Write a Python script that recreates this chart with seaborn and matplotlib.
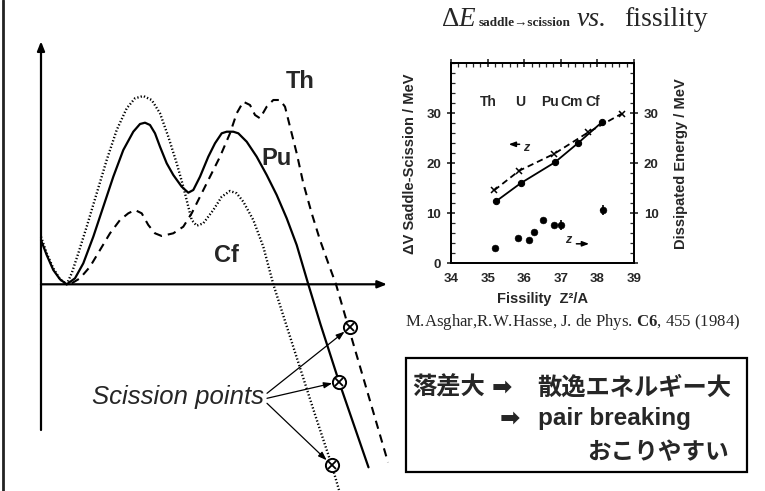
import numpy as np
import pandas as pd
import matplotlib
matplotlib.use("Agg")
import matplotlib.pyplot as plt
from matplotlib.patches import Rectangle
from matplotlib.ticker import MultipleLocator
import seaborn as sns

# ---------------------------------------------------------------
# Schematic fission barriers: deformation vs. potential energy
# (arbitrary units, origin at the ground-state minimum axis)
# ---------------------------------------------------------------
pu_def = [0.0, 0.57, 1.23, 1.9, 2.57, 3.4, 4.23, 5.23, 6.23, 7.23, 8.23, 9.23, 9.9,
          10.4, 10.9, 11.4, 11.9, 12.57, 13.23, 14.07, 14.73, 15.23, 15.9, 16.73,
          17.4, 18.07, 18.57, 19.23, 19.73, 20.57, 21.57, 22.57, 23.57, 24.57,
          25.57, 26.73, 27.95, 29.8, 32.75]
pu_e = [4.43, 2.93, 1.43, 0.5, 0.0, 0.6, 2.1, 4.76, 7.76, 10.76, 13.43, 15.26, 16.03,
        16.16, 15.93, 15.1, 13.76, 12.1, 10.93, 9.76, 9.16, 9.43, 10.76, 12.76,
        14.1, 15.1, 15.26, 15.26, 15.1, 14.26, 12.76, 10.93, 8.93, 6.6,
        3.93, 0.0, -4.0, -9.74, -18.3]

th_def = [3.07, 3.9, 4.9, 5.9, 6.9, 7.9, 8.73, 9.4, 10.07, 10.73, 11.4, 12.07,
          13.23, 14.23, 15.07, 15.9, 16.9, 17.9, 18.9, 19.57, 20.23, 20.9, 21.4,
          21.9, 22.57, 23.23, 23.9, 24.4, 24.9, 25.57, 26.23, 27.07, 27.9, 28.73,
          29.5, 30.75, 34.7]
th_e = [0.1, 0.6, 1.76, 3.43, 5.1, 6.43, 7.1, 7.43, 7.1, 5.93, 5.1, 4.83,
        5.1, 5.76, 7.1, 8.76, 10.76, 12.76, 15.1, 17.1, 18.26, 17.93, 16.93,
        16.6, 17.76, 18.43, 18.43, 17.76, 15.76, 13.1, 10.1, 7.1, 4.43, 2.1,
        0.0, -4.3, -17.8]

cf_def = [0.0, 0.57, 1.23, 1.9, 2.57, 3.07, 3.73, 4.57, 5.57, 6.57, 7.57, 8.57,
          9.4, 10.23, 11.07, 11.9, 12.73, 13.57, 14.23, 14.73, 15.07, 15.57,
          16.23, 17.23, 18.07, 18.9, 19.57, 20.23, 21.23, 22.23, 23.23, 25.33,
          27.47, 29.07, 29.8]
cf_e = [4.76, 3.1, 1.6, 0.5, 0.0, 1.1, 3.1, 5.76, 9.1, 12.43, 15.43, 17.6,
        18.6, 18.83, 18.43, 17.1, 14.76, 12.1, 9.76, 7.76, 6.43, 5.86,
        6.1, 7.43, 8.76, 9.33, 9.1, 8.26, 6.43, 3.76, 0.0, -6.57,
        -13.24, -18.07, -20.57]

# scission points (Th, Pu, Cf)
scission_def = [30.9, 29.8, 29.07]
scission_e = [-4.3, -9.74, -18.07]

nuclei_labels = ["Th", "Pu", "Cf"]
nuclei_label_def = [25.9, 23.57, 18.57]
nuclei_label_e = [20.26, 12.6, 2.83]

# ---------------------------------------------------------------
# Saddle-to-scission energy vs. fissility (Asghar & Hasse 1984)
# ---------------------------------------------------------------
fissility_ticks = [34, 35, 36, 37, 38, 39]
energy_ticks = [0, 10, 20, 30]
dv_fiss = [35.23, 35.9, 36.84, 37.48, 38.12]
dv_mev = [12.4, 16.0, 20.2, 24.1, 28.2]
dv_lin_fiss = [35.18, 35.86, 36.82, 37.75, 38.66]
dv_lin_mev = [14.6, 18.5, 21.9, 26.2, 29.9]
diss_fiss = [35.2, 35.82, 36.14, 36.27, 36.52, 36.81, 37.0, 38.16]
diss_mev = [3.0, 5.0, 4.6, 6.3, 8.7, 7.6, 7.6, 10.6]
diss_err = [0.0, 0.0, 0.0, 0.0, 0.0, 0.0, 1.0, 1.0]
elements = ["Th", "U", "Pu", "Cm", "Cf"]
element_fiss = [35.02, 35.89, 36.7, 37.3, 37.87]

sns.set_style("white")
plt.rcParams["font.family"] = ["Liberation Sans", "DejaVu Sans"]
plt.rcParams["mathtext.fontset"] = "custom"
plt.rcParams["mathtext.rm"] = "Liberation Serif"
plt.rcParams["mathtext.it"] = "Liberation Serif:italic"
plt.rcParams["mathtext.bf"] = "Liberation Serif:bold"

W, H = 765, 491
fig = plt.figure(figsize=(W / 100, H / 100), dpi=100)
fig.patch.set_facecolor("white")


def px_rect(x0, y0, x1, y1):
    return [x0 / W, 1 - y1 / H, (x1 - x0) / W, (y1 - y0) / H]


# page layer in pixel units
bg = fig.add_axes([0, 0, 1, 1])
bg.set_xlim(0, W)
bg.set_ylim(H, 0)
bg.axis("off")
bg.axvline(2.7, color="#222222", lw=2.0)

# ---------------- schematic barrier panel ----------------
sk = fig.add_axes(px_rect(0, 0, 400, 491))
sk.set_xlim(-4.1, 35.9)
sk.set_ylim(-20.67, 28.43)
sk.axis("off")

arrow_kw = dict(arrowstyle="-|>,head_length=0.55,head_width=0.22", color="black",
                lw=1.6, shrinkA=0, shrinkB=0)
sk.annotate("", xy=(0, 24.3), xytext=(0, -14.57), arrowprops=arrow_kw)
sk.annotate("", xy=(34.6, 0), xytext=(0, 0), arrowprops=arrow_kw)

sns.lineplot(x=pu_def, y=pu_e, ax=sk, sort=False, estimator=None,
             color="black", lw=1.6)
sns.lineplot(x=th_def, y=th_e, ax=sk, sort=False, estimator=None,
             color="black", lw=1.5, linestyle=(0, (4.0, 2.9)))
sns.lineplot(x=cf_def, y=cf_e, ax=sk, sort=False, estimator=None,
             color="black", lw=1.7, linestyle=(0, (0.55, 0.9)))

sns.lineplot(x=scission_def, y=scission_e, ax=sk, sort=False, estimator=None,
             linestyle="none", marker="o", markersize=9.5,
             markerfacecolor="white", markeredgecolor="black",
             markeredgewidth=1.4, zorder=5)
sns.lineplot(x=scission_def, y=scission_e, ax=sk, sort=False, estimator=None,
             linestyle="none", marker="x", markersize=5.5,
             markeredgecolor="black", markeredgewidth=1.3, zorder=6)

for lab, xd, yd in zip(nuclei_labels, nuclei_label_def, nuclei_label_e):
    sk.text(xd, yd, lab, fontsize=17, fontweight="bold", ha="center", va="center")

sk.text(22.25, -11.3, "Scission points", fontsize=18.5, fontstyle="italic",
        ha="right", va="center")
for xd, yd, y0 in zip(scission_def, scission_e, [-10.9, -11.4, -11.9]):
    sk.annotate("", xy=(xd, yd), xytext=(22.6, y0),
                arrowprops=dict(arrowstyle="-|>,head_length=0.5,head_width=0.18",
                                color="black", lw=0.9, shrinkA=0, shrinkB=5))

# ---------------- data inset ----------------
ins = fig.add_axes(px_rect(451, 63.3, 634, 263.3))
ins.set_facecolor("none")
ins2 = ins.twinx()

sns.lineplot(x=dv_fiss, y=dv_mev, ax=ins, sort=False, estimator=None,
             color="black", lw=1.3, marker="o", markersize=4.5,
             markerfacecolor="black", markeredgecolor="black")
sns.lineplot(x=dv_lin_fiss, y=dv_lin_mev, ax=ins, sort=False, estimator=None,
             color="black", lw=1.3, linestyle=(0, (3.5, 2.2)), marker="x",
             markersize=5, markeredgecolor="black", markeredgewidth=1.1)
sns.scatterplot(x=diss_fiss, y=diss_mev, ax=ins2, s=24)
ins2.collections[-1].set_facecolor("black")
ins2.collections[-1].set_edgecolor("black")
ins2.errorbar(diss_fiss, diss_mev, yerr=diss_err,
              xerr=[0.08 if e > 0 else 0 for e in diss_err],
              fmt="none", ecolor="black", elinewidth=1.2, capsize=0)

for a in (ins, ins2):
    a.set_xlim(34, 39)
    a.set_ylim(0, 40)
ins.set_xticks(fissility_ticks)
ins.set_yticks(energy_ticks)
ins2.set_yticks(energy_ticks)
ins2.set_yticklabels([""] + [str(v) for v in energy_ticks[1:]])
ins.xaxis.set_minor_locator(MultipleLocator(0.2))
ins.yaxis.set_minor_locator(MultipleLocator(2))
ins2.yaxis.set_minor_locator(MultipleLocator(2))
ins.tick_params(which="major", direction="inout", length=6, width=1.2, top=True,
                labelsize=9.5, pad=4)
ins.tick_params(which="minor", direction="in", length=3, width=0.9, top=True)
ins2.tick_params(which="major", direction="inout", length=6, width=1.2,
                 labelsize=9.5, pad=4)
ins2.tick_params(which="minor", direction="in", length=3, width=0.9)
for lbl in ins.get_xticklabels() + ins.get_yticklabels() + ins2.get_yticklabels():
    lbl.set_fontweight("bold")
for a in (ins, ins2):
    for sp in a.spines.values():
        sp.set_linewidth(1.3)
        sp.set_color("black")
ins.set_xlabel("Fissility  Z²/A", fontsize=10.5, fontweight="bold", labelpad=5)
ins.set_ylabel("ΔV Saddle-Scission / MeV", fontsize=10.5, fontweight="bold",
               labelpad=7)
ins2.set_ylabel("Dissipated Energy / MeV", fontsize=10.5, fontweight="bold",
                labelpad=11)

for el, xf in zip(elements, element_fiss):
    ins.text(xf, 32.3, el, fontsize=10, fontweight="bold", ha="center",
             va="center")
# axis pointers: lines belong to the left scale, dots to the right scale
ins.annotate("", xy=(35.5, 23.8), xytext=(35.95, 23.8),
             arrowprops=dict(arrowstyle="-|>,head_length=0.4,head_width=0.15",
                             color="black", lw=1.1))
ins.text(36.05, 23.0, "z", fontsize=9, fontweight="bold", fontstyle="italic",
         ha="center", va="center")
ins2.text(37.2, 4.6, "z", fontsize=9, fontweight="bold", fontstyle="italic",
          ha="center", va="center")
ins2.annotate("", xy=(37.85, 3.9), xytext=(37.35, 3.9),
              arrowprops=dict(arrowstyle="-|>,head_length=0.4,head_width=0.15",
                              color="black", lw=1.1))

# ---------------- titles, reference and summary box ----------------
serif = ["Liberation Serif", "DejaVu Serif"]
bg.text(442, 26, "Δ", fontsize=19.5, family=serif, ha="left", va="baseline")
bg.text(458, 26, "E", fontsize=19.5, family=serif, fontstyle="italic",
        ha="left", va="baseline")
bg.text(479, 26, "saddle→scission", fontsize=9.5, family=serif,
        fontweight="bold", ha="left", va="baseline")
bg.text(577, 26, "vs.", fontsize=20, family=serif, fontstyle="italic",
        ha="left", va="baseline")
bg.text(624, 26, "fissility", fontsize=20, family=serif, ha="left",
        va="baseline")
bg.text(405, 322, r"M.Asghar,R.W.Hasse, J. de Phys. $\mathbf{C6}$, 455 (1984)",
        fontsize=12.1, family="Liberation Serif", ha="left", va="center")

bg.add_patch(Rectangle((406, 358.3), 340.7, 113.4, fill=False, lw=1.6,
                       edgecolor="black"))
cjk = ["Noto Sans CJK JP", "DejaVu Sans"]
box_kw = dict(fontsize=17.5, fontweight="bold", ha="left", va="center")
bg.text(412, 388, "落差大", family=cjk, **box_kw)
bg.text(492, 388, "➡", family=["DejaVu Sans"], **box_kw)
bg.text(537, 388, "散逸エネルギー大", family=cjk, **box_kw)
bg.text(500, 419, "➡", family=["DejaVu Sans"], **box_kw)
bg.text(538, 419, "pair breaking", family=["Liberation Sans"], **box_kw)
bg.text(587, 452, "おこりやすい", family=cjk, fontsize=17, fontweight="bold",
        ha="left", va="center")

fig.savefig("out.png", dpi=100, facecolor="white")
